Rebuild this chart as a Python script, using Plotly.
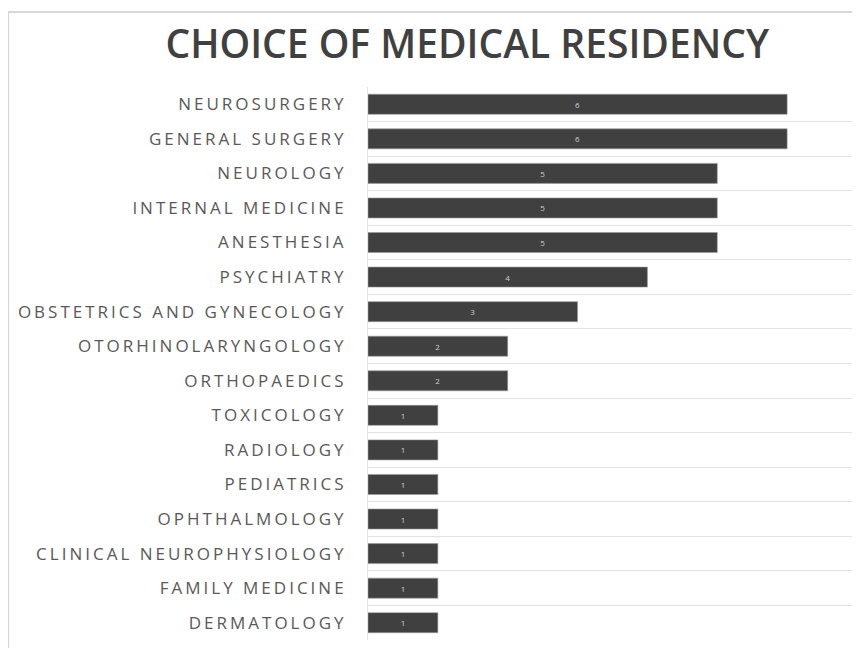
import plotly.graph_objects as go

categories = [
    "NEUROSURGERY", "GENERAL SURGERY", "NEUROLOGY", "INTERNAL MEDICINE",
    "ANESTHESIA", "PSYCHIATRY", "OBSTETRICS AND GYNECOLOGY",
    "OTORHINOLARYNGOLOGY", "ORTHOPAEDICS", "TOXICOLOGY", "RADIOLOGY",
    "PEDIATRICS", "OPHTHALMOLOGY", "CLINICAL NEUROPHYSIOLOGY",
    "FAMILY MEDICINE", "DERMATOLOGY",
]
counts = [6, 6, 5, 5, 5, 4, 3, 2, 2, 1, 1, 1, 1, 1, 1, 1]
title_text = "CHOICE OF MEDICAL RESIDENCY"

fig = go.Figure(go.Bar(
    x=counts, y=categories, orientation="h",
    marker=dict(color="#404040", line=dict(color="#9a9a9a", width=0.6)),
    width=0.58,
    text=[str(c) for c in counts], textposition="inside",
    insidetextanchor="middle",
    textfont=dict(family="Open Sans", size=8, color="#d0d0d0"),
    hoverinfo="skip",
))

fig.update_layout(
    width=860, height=648,
    margin=dict(l=360, r=11, t=79, b=16),
    paper_bgcolor="white", plot_bgcolor="white",
    showlegend=False,
    title=dict(text=title_text, x=0.534, xanchor="center", y=0.944, yanchor="middle",
               font=dict(family="Open Sans", size=39, color="#404040", weight=600)),
    xaxis=dict(range=[0, 7], showgrid=False, showticklabels=False, zeroline=False,
               showline=False, fixedrange=True),
    yaxis=dict(autorange="reversed", tickson="boundaries", showgrid=True,
               gridcolor="#e3e3e3", gridwidth=1, ticks="", showline=True,
               linecolor="#e3e3e3", linewidth=1, ticklabelstandoff=17,
               tickfont=dict(family="Open Sans", size=17, color="#595959")),
    shapes=[
        dict(type="line", xref="paper", yref="paper", x0=-0.736, x1=-0.736,
             y0=1.1356, y1=-0.04, line=dict(color="#d6d6d6", width=2)),
        dict(type="line", xref="paper", yref="paper", x0=-0.736, x1=1.03,
             y0=1.1356, y1=1.1356, line=dict(color="#d6d6d6", width=2)),
    ],
)

post = """
var gd = document.getElementById('{plot_id}');
function spaceTicks() {
  gd.querySelectorAll('.ytick text').forEach(function(t) {
    t.style.letterSpacing = '3px';
  });
}
spaceTicks();
setTimeout(spaceTicks, 0);
if (gd.on) { gd.on('plotly_afterplot', spaceTicks); }
"""

fig.write_html("out.html", post_script=post)
